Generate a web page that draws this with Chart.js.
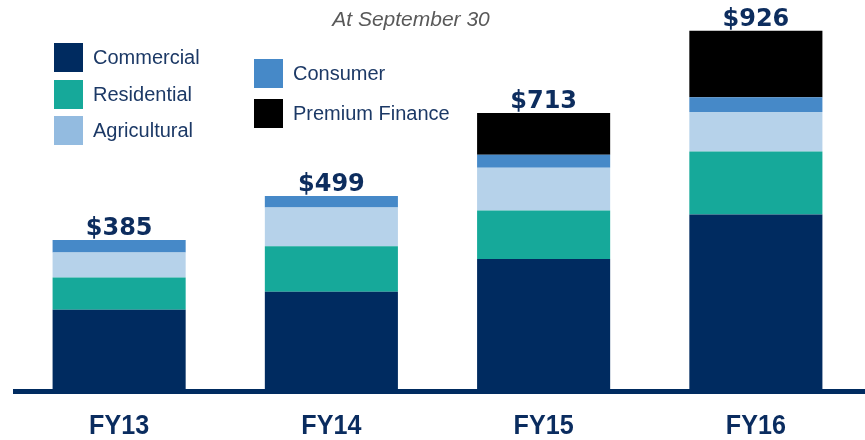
<!DOCTYPE html>
<html>
<head>
<meta charset="utf-8">
<script src="https://cdn.jsdelivr.net/npm/chart.js@4/dist/chart.umd.min.js"></script>
<style>
  html, body { margin: 0; padding: 0; background: #fff; }
  #wrap { width: 865px; height: 440px; position: relative; }
</style>
</head>
<body>
<div id="wrap"><canvas id="loanChart"></canvas></div>
<script>
// Loan portfolio by type, $ millions, at September 30
const years = ['FY13', 'FY14', 'FY15', 'FY16'];
const commercial = [205, 251, 336, 451];
const residential = [83, 118, 125, 163];
const agricultural = [65, 100, 111, 102];
const consumer = [32, 30, 33, 38];
const premiumFinance = [0, 0, 108, 172];

const navy = '#002b60';

// legend layout: two columns, drawn by hand
const legendItems = [
    { label: 'Commercial', color: '#002b60', x: 54, y: 43 },
    { label: 'Residential', color: '#16a99a', x: 54, y: 80 },
    { label: 'Agricultural', color: '#93bbe0', x: 54, y: 116 },
    { label: 'Consumer', color: '#4689c8', x: 254, y: 59 },
    { label: 'Premium Finance', color: '#000000', x: 254, y: 99 }
];

const extras = {
    id: 'extras',
    afterDraw(chart) {
        const ctx = chart.ctx;
        const xs = chart.scales.x;
        const ys = chart.scales.y;
        ctx.save();

        // axis line
        ctx.fillStyle = navy;
        ctx.fillRect(13, 389, 852, 5);

        // category labels (slightly condensed)
        ctx.font = 'bold 27px "Liberation Sans", Arial, sans-serif';
        ctx.fillStyle = '#0a2c5f';
        ctx.textAlign = 'center';
        ctx.textBaseline = 'alphabetic';
        years.forEach((yr, i) => {
            ctx.save();
            ctx.translate(xs.getPixelForValue(i), 434);
            ctx.scale(0.93, 1);
            ctx.fillText(yr, 0, 0);
            ctx.restore();
        });

        // totals on top
        ctx.font = 'bold 24px "DejaVu Sans", sans-serif';
        ctx.fillStyle = '#0d2d5e';
        years.forEach((yr, i) => {
            const total = commercial[i] + residential[i] + agricultural[i] + consumer[i] + premiumFinance[i];
            ctx.fillText('$' + total, xs.getPixelForValue(i), ys.getPixelForValue(total) - 5);
        });

        // subtitle
        ctx.font = 'italic 21px "Liberation Sans", Arial, sans-serif';
        ctx.fillStyle = '#595959';
        ctx.fillText('At September 30', 411, 26);

        // legend
        ctx.textAlign = 'left';
        ctx.textBaseline = 'middle';
        ctx.font = '20px "Liberation Sans", Arial, sans-serif';
        legendItems.forEach(it => {
            ctx.fillStyle = it.color;
            ctx.fillRect(it.x, it.y, 29, 29);
            ctx.fillStyle = '#1c3966';
            ctx.fillText(it.label, it.x + 39, it.y + 15);
        });
        ctx.restore();
    }
};

new Chart(document.getElementById('loanChart'), {
    type: 'bar',
    data: {
        labels: years,
        datasets: [
            { label: 'Commercial', data: commercial, backgroundColor: '#002b60' },
            { label: 'Residential', data: residential, backgroundColor: '#16a99a' },
            { label: 'Agricultural', data: agricultural, backgroundColor: '#b6d2ea' },
            { label: 'Consumer', data: consumer, backgroundColor: '#4689c8' },
            { label: 'Premium Finance', data: premiumFinance, backgroundColor: '#000000' }
        ]
    },
    options: {
        responsive: true,
        maintainAspectRatio: false,
        animation: false,
        layout: { padding: { left: 13, right: 3, top: 2, bottom: 51 } },
        datasets: { bar: { barPercentage: 0.627, categoryPercentage: 1.0 } },
        scales: {
            x: { stacked: true, display: false },
            y: { stacked: true, display: false, min: 0, max: 1000 }
        },
        plugins: {
            legend: { display: false },
            tooltip: { enabled: false }
        }
    },
    plugins: [extras]
});
</script>
</body>
</html>
